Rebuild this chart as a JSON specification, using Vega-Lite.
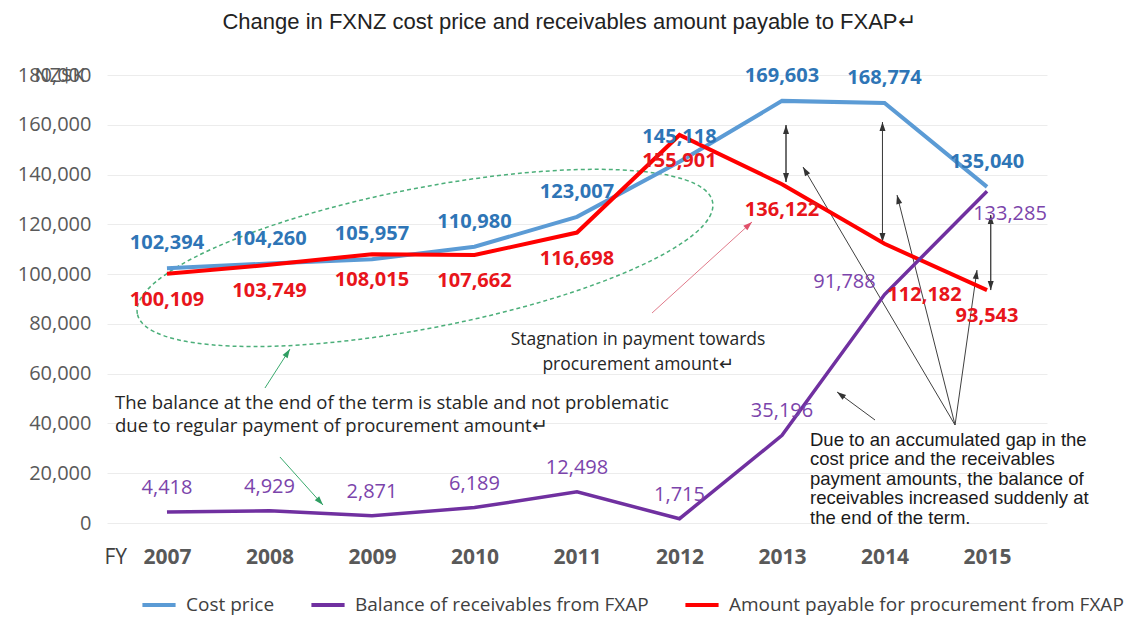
{
  "$schema": "https://vega.github.io/schema/vega-lite/v6.json",
  "width": 940,
  "height": 448,
  "autosize": {"type": "none"},
  "padding": {"left": 107, "top": 75, "right": 80, "bottom": 95},
  "background": "white",
  "config": {"view": {"stroke": null}},
  "title": {
    "text": "Change in FXNZ cost price and receivables amount payable to FXAP↵",
    "font": "Liberation Sans",
    "fontSize": 22,
    "fontWeight": "normal",
    "color": "#222222",
    "anchor": "middle",
    "frame": "group",
    "baseline": "middle",
    "offset": 21,
    "dx": -8
  },
  "datasets": {
    "series": [
      {"year": 2007, "series": "Cost price", "value": 102394},
      {"year": 2008, "series": "Cost price", "value": 104260},
      {"year": 2009, "series": "Cost price", "value": 105957},
      {"year": 2010, "series": "Cost price", "value": 110980},
      {"year": 2011, "series": "Cost price", "value": 123007},
      {"year": 2012, "series": "Cost price", "value": 145118},
      {"year": 2013, "series": "Cost price", "value": 169603},
      {"year": 2014, "series": "Cost price", "value": 168774},
      {"year": 2015, "series": "Cost price", "value": 135040},
      {"year": 2007, "series": "Balance of receivables from FXAP", "value": 4418},
      {"year": 2008, "series": "Balance of receivables from FXAP", "value": 4929},
      {"year": 2009, "series": "Balance of receivables from FXAP", "value": 2871},
      {"year": 2010, "series": "Balance of receivables from FXAP", "value": 6189},
      {"year": 2011, "series": "Balance of receivables from FXAP", "value": 12498},
      {"year": 2012, "series": "Balance of receivables from FXAP", "value": 1715},
      {"year": 2013, "series": "Balance of receivables from FXAP", "value": 35196},
      {"year": 2014, "series": "Balance of receivables from FXAP", "value": 91788},
      {"year": 2015, "series": "Balance of receivables from FXAP", "value": 133285},
      {"year": 2007, "series": "Amount payable for procurement from FXAP", "value": 100109},
      {"year": 2008, "series": "Amount payable for procurement from FXAP", "value": 103749},
      {"year": 2009, "series": "Amount payable for procurement from FXAP", "value": 108015},
      {"year": 2010, "series": "Amount payable for procurement from FXAP", "value": 107662},
      {"year": 2011, "series": "Amount payable for procurement from FXAP", "value": 116698},
      {"year": 2012, "series": "Amount payable for procurement from FXAP", "value": 155901},
      {"year": 2013, "series": "Amount payable for procurement from FXAP", "value": 136122},
      {"year": 2014, "series": "Amount payable for procurement from FXAP", "value": 112182},
      {"year": 2015, "series": "Amount payable for procurement from FXAP", "value": 93543}
    ],
    "arrows": [
      {"g": "black", "year": 2013.039, "value": 159900, "year2": 2013.039, "value2": 137000},
      {"g": "black", "year": 2013.039, "value": 137000, "year2": 2013.039, "value2": 159900},
      {"g": "black", "year": 2013.98, "value": 161100, "year2": 2013.98, "value2": 112900},
      {"g": "black", "year": 2013.98, "value": 112900, "year2": 2013.98, "value2": 161100},
      {"g": "black", "year": 2015.036, "value": 123750, "year2": 2015.036, "value2": 93600},
      {"g": "black", "year": 2015.036, "value": 93600, "year2": 2015.036, "value2": 123750},
      {"g": "black", "year": 2013.205, "value": 143040, "year2": 2014.688, "value2": 39380},
      {"g": "black", "year": 2014.122, "value": 131790, "year2": 2014.688, "value2": 39380},
      {"g": "black", "year": 2014.902, "value": 101650, "year2": 2014.688, "value2": 39380},
      {"g": "black", "year": 2013.537, "value": 52640, "year2": 2013.907, "value2": 41390},
      {"g": "pink", "year": 2012.707, "value": 120940, "year2": 2011.732, "value2": 84380},
      {"g": "green", "year": 2008.2, "value": 69910, "year2": 2007.956, "value2": 54240},
      {"g": "green", "year": 2008.522, "value": 7230, "year2": 2008.102, "value2": 26520}
    ]
  },
  "encoding": {
    "x": {
      "field": "year",
      "type": "quantitative",
      "title": "FY",
      "scale": {"domain": [2006.415, 2015.585], "nice": false, "zero": false},
      "axis": {
        "values": [2007, 2008, 2009, 2010, 2011, 2012, 2013, 2014, 2015],
        "format": "d",
        "labelFont": "Open Sans",
        "labelFontSize": 21,
        "labelFontWeight": "bold",
        "labelColor": "#595959",
        "labelPadding": 34,
        "labelBaseline": "middle",
        "labelFlush": false,
        "labelOverlap": false,
        "ticks": false,
        "domain": false,
        "grid": false,
        "titleX": -3,
        "titleY": 34,
        "titleAlign": "left",
        "titleBaseline": "middle",
        "titleFont": "Open Sans",
        "titleFontSize": 21,
        "titleFontWeight": "normal",
        "titleColor": "#404040"
      }
    },
    "y": {
      "field": "value",
      "type": "quantitative",
      "title": "NZ$K",
      "scale": {"domain": [0, 180000], "nice": false},
      "axis": {
        "values": [0, 20000, 40000, 60000, 80000, 100000, 120000, 140000, 160000, 180000],
        "format": ",.0f",
        "labelFont": "Open Sans",
        "labelFontSize": 20,
        "labelColor": "#595959",
        "labelPadding": 16,
        "ticks": false,
        "domain": false,
        "grid": true,
        "gridColor": "#ececec",
        "titleAngle": 0,
        "titleX": -73,
        "titleY": 0,
        "titleAlign": "left",
        "titleBaseline": "middle",
        "titleFont": "Open Sans",
        "titleFontSize": 20,
        "titleFontWeight": "normal",
        "titleColor": "#595959"
      }
    }
  },
  "layer": [
    {
      "data": {"values": [{"year": 2009.517, "value": 106500}]},
      "mark": {
        "type": "point",
        "shape": "M-1,0C-1,-0.132,-0.5523,-0.239,0,-0.239C0.5523,-0.239,1,-0.132,1,0C1,0.132,0.5523,0.239,0,0.239C-0.5523,0.239,-1,0.132,-1,0Z",
        "size": 343396,
        "angle": -11,
        "filled": false,
        "color": "#4caf7a",
        "opacity": 1,
        "strokeWidth": 1.5,
        "strokeDash": [4, 3]
      }
    },
    {
      "data": {"name": "arrows"},
      "mark": {"type": "rule", "strokeWidth": 1},
      "encoding": {
        "x2": {"field": "year2"},
        "y2": {"field": "value2"},
        "stroke": {
          "condition": [
            {"test": "datum.g === 'pink'", "value": "#e07a8a"},
            {"test": "datum.g === 'green'", "value": "#3aaa6e"}
          ],
          "value": "#404040"
        }
      }
    },
    {
      "data": {"name": "arrows"},
      "transform": [
        {"calculate": "atan2((datum.year - datum.year2) * 102.5, (datum.value - datum.value2) / 401.8) * 180 / PI", "as": "ang"}
      ],
      "mark": {"type": "point", "shape": "M0,0L-0.6,1.8L0.6,1.8Z", "size": 100, "filled": true, "opacity": 1, "strokeWidth": 0},
      "encoding": {
        "angle": {"field": "ang", "type": "quantitative", "scale": null},
        "fill": {
          "condition": [
            {"test": "datum.g === 'pink'", "value": "#e0506a"},
            {"test": "datum.g === 'green'", "value": "#2f9e62"}
          ],
          "value": "#333333"
        }
      }
    },
    {
      "data": {"name": "series"},
      "transform": [{"filter": "datum.series === 'Cost price'"}],
      "mark": {"type": "line", "strokeWidth": 4},
      "encoding": {
        "color": {
          "field": "series",
          "type": "nominal",
          "scale": {
            "domain": ["Cost price", "Balance of receivables from FXAP", "Amount payable for procurement from FXAP"],
            "range": ["#5b9bd5", "#7030a0", "#ff0000"]
          },
          "legend": {
            "orient": "none",
            "legendX": 33,
            "legendY": 511,
            "direction": "horizontal",
            "title": null,
            "symbolType": "stroke",
            "symbolStrokeWidth": 4,
            "symbolSize": 1100,
            "labelFont": "Open Sans",
            "labelFontSize": 19,
            "labelColor": "#404040",
            "labelOffset": 8,
            "columnPadding": 28,
            "labelLimit": 600
          }
        }
      }
    },
    {
      "data": {"name": "series"},
      "transform": [{"filter": "datum.series === 'Amount payable for procurement from FXAP'"}],
      "mark": {"type": "line", "strokeWidth": 4},
      "encoding": {"color": {"field": "series", "type": "nominal"}}
    },
    {
      "data": {"name": "series"},
      "transform": [{"filter": "datum.series === 'Balance of receivables from FXAP'"}],
      "mark": {"type": "line", "strokeWidth": 3.5},
      "encoding": {"color": {"field": "series", "type": "nominal"}}
    },
    {
      "data": {"name": "series"},
      "transform": [{"filter": "datum.series === 'Cost price'"}],
      "mark": {"type": "text", "font": "Open Sans", "fontSize": 20, "fontWeight": "bold", "color": "#2e75b6", "dy": -25, "baseline": "middle"},
      "encoding": {"text": {"field": "value", "type": "quantitative", "format": ","}}
    },
    {
      "data": {"name": "series"},
      "transform": [{"filter": "datum.series === 'Amount payable for procurement from FXAP' && datum.year !== 2014"}],
      "mark": {"type": "text", "font": "Open Sans", "fontSize": 20, "fontWeight": "bold", "color": "#e8151b", "dy": 26, "baseline": "middle"},
      "encoding": {"text": {"field": "value", "type": "quantitative", "format": ","}}
    },
    {
      "data": {"name": "series"},
      "transform": [{"filter": "datum.series === 'Amount payable for procurement from FXAP' && datum.year === 2014"}],
      "mark": {"type": "text", "font": "Open Sans", "fontSize": 20, "fontWeight": "bold", "color": "#e8151b", "dx": 40, "dy": 51, "baseline": "middle"},
      "encoding": {"text": {"field": "value", "type": "quantitative", "format": ","}}
    },
    {
      "data": {"name": "series"},
      "transform": [{"filter": "datum.series === 'Balance of receivables from FXAP' && datum.year <= 2013"}],
      "mark": {"type": "text", "font": "Open Sans", "fontSize": 20, "color": "#7b44ab", "dy": -24, "baseline": "middle"},
      "encoding": {"text": {"field": "value", "type": "quantitative", "format": ","}}
    },
    {
      "data": {"name": "series"},
      "transform": [{"filter": "datum.series === 'Balance of receivables from FXAP' && datum.year === 2014"}],
      "mark": {"type": "text", "font": "Open Sans", "fontSize": 20, "color": "#7b44ab", "dx": -40, "dy": -13, "baseline": "middle"},
      "encoding": {"text": {"field": "value", "type": "quantitative", "format": ","}}
    },
    {
      "data": {"name": "series"},
      "transform": [{"filter": "datum.series === 'Balance of receivables from FXAP' && datum.year === 2015"}],
      "mark": {"type": "text", "font": "Open Sans", "fontSize": 20, "color": "#7b44ab", "dx": 23, "dy": 23, "baseline": "middle"},
      "encoding": {"text": {"field": "value", "type": "quantitative", "format": ","}}
    },
    {
      "data": {"values": [{"year": 2006.493, "value": 48200, "t": ["The balance at the end of the term is stable and not problematic", "due to regular payment of procurement amount↵"]}]},
      "mark": {"type": "text", "font": "Open Sans", "fontSize": 18.5, "color": "#262626", "align": "left", "baseline": "middle", "lineHeight": 22.5},
      "encoding": {"text": {"field": "t"}}
    },
    {
      "data": {"values": [{"year": 2011.595, "value": 73500, "t": ["Stagnation in payment towards", "procurement amount↵"]}]},
      "mark": {"type": "text", "font": "Open Sans", "fontSize": 17.5, "color": "#262626", "align": "center", "baseline": "middle", "lineHeight": 25},
      "encoding": {"text": {"field": "t"}}
    },
    {
      "data": {"values": [{"year": 2013.273, "value": 33350, "t": ["Due to  an accumulated gap in the", "cost price and the receivables", "payment amounts, the balance of", "receivables increased suddenly at", "the end of the term."]}]},
      "mark": {"type": "text", "font": "Liberation Sans", "fontSize": 18.5, "color": "#1a1a1a", "align": "left", "baseline": "middle", "lineHeight": 19.5},
      "encoding": {"text": {"field": "t"}}
    }
  ]
}
